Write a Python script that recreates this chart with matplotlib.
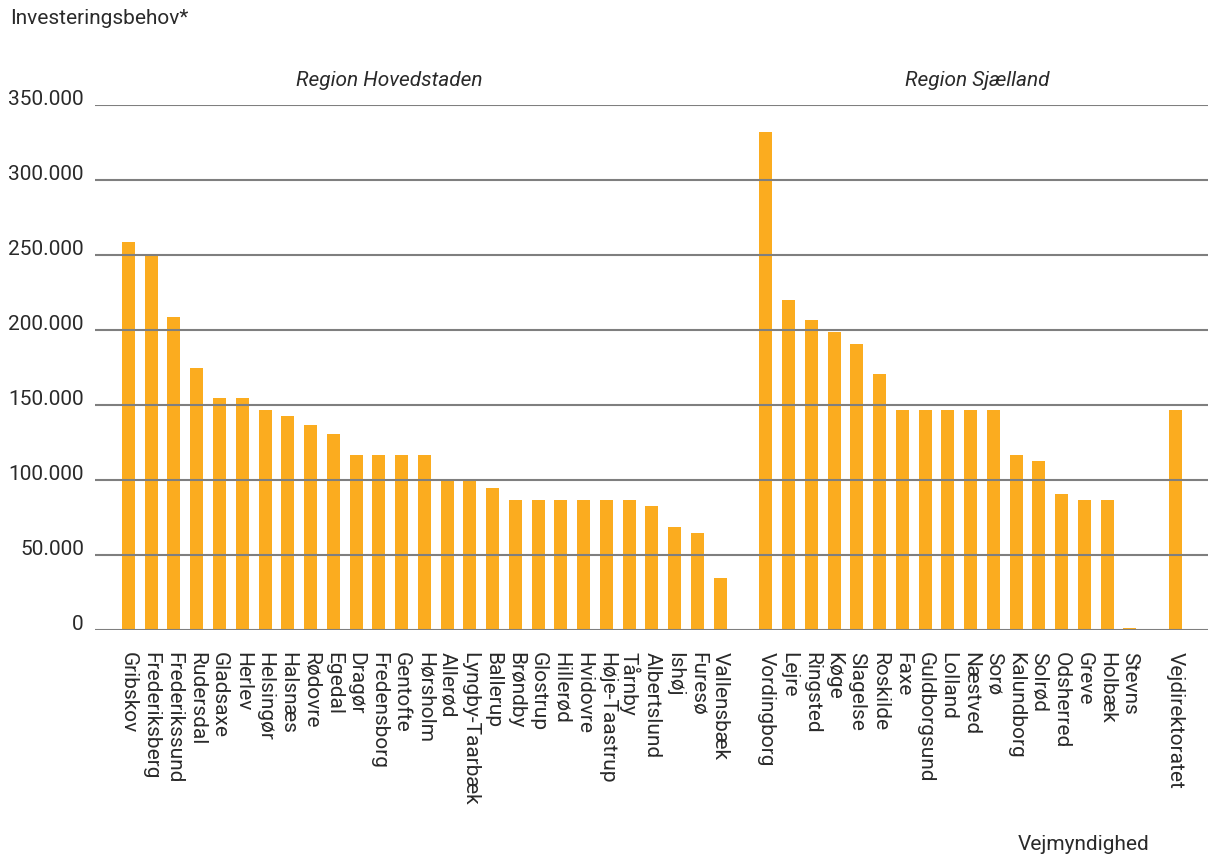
import numpy as np
import matplotlib
matplotlib.use("Agg")
import matplotlib.pyplot as plt

plt.rcParams["font.family"] = ["Roboto", "DejaVu Sans"]

# kommuner, Region Hovedstaden
hovedstaden = ["Gribskov", "Frederiksberg", "Frederikssund", "Rudersdal", "Gladsaxe",
               "Herlev", "Helsingør", "Halsnæs", "Rødovre", "Egedal", "Dragør",
               "Fredensborg", "Gentofte", "Hørsholm", "Allerød", "Lyngby-Taarbæk",
               "Ballerup", "Brøndby", "Glostrup", "Hillerød", "Hvidovre",
               "Høje-Taastrup", "Tårnby", "Albertslund", "Ishøj", "Furesø", "Vallensbæk"]
hovedstaden_vals = [259000, 251000, 209000, 175000, 155000, 155000, 147000, 143000,
                    137000, 131000, 117000, 117000, 117000, 117000, 101000, 100000,
                    95000, 87000, 87000, 87000, 87000, 87000, 87000, 83000, 69000,
                    65000, 35000]

# kommuner, Region Sjælland
sjaelland = ["Vordingborg", "Lejre", "Ringsted", "Køge", "Slagelse", "Roskilde", "Faxe",
             "Guldborgsund", "Lolland", "Næstved", "Sorø", "Kalundborg", "Solrød",
             "Odsherred", "Greve", "Holbæk", "Stevns"]
sjaelland_vals = [332000, 220000, 207000, 199000, 191000, 171000, 147000, 147000,
                  147000, 147000, 147000, 117000, 113000, 91000, 87000, 87000, 1500]

stat = ["Vejdirektoratet"]
stat_vals = [147000]

yticks = [0, 50000, 100000, 150000, 200000, 250000, 300000, 350000]
ytick_labels = ["0", "50.000", "100.000", "150.000", "200.000", "250.000",
                "300.000", "350.000"]

BAR = "#fbac1f"
GRID = "#7f7f7f"
TXT = "#2a2a2a"

# positions: one empty slot between the groups
x_h = np.arange(len(hovedstaden))
x_s = np.arange(len(sjaelland)) + len(hovedstaden) + 1
x_v = np.arange(len(stat)) + x_s[-1] + 2
xs = np.concatenate([x_h, x_s, x_v])
labels = hovedstaden + sjaelland + stat
vals = hovedstaden_vals + sjaelland_vals + stat_vals

fig = plt.figure(figsize=(12.08, 8.56), dpi=100)
ax = fig.add_axes([95 / 1208, 226 / 856, 1113 / 1208, 525 / 856])

ax.bar(xs, vals, width=0.57, color=BAR, zorder=2)
for y in yticks:
    ax.axhline(y, color=GRID, lw=1.5, zorder=3)

ax.set_xlim(-1.47, 47.43)
ax.set_ylim(0, 350000)
for s in ax.spines.values():
    s.set_visible(False)

ax.set_yticks(yticks)
ax.set_yticklabels(ytick_labels, fontsize=15, color=TXT)
for t in ax.get_yticklabels():
    t.set_va("baseline")
ax.tick_params(axis="y", length=0, pad=8)

ax.set_xticks(xs)
ax.set_xticklabels(labels, rotation=-90, fontsize=15, color=TXT, va="top", ha="center")
ax.tick_params(axis="x", length=0, pad=16)

ax.text(11.47, 360000, "Region Hovedstaden", style="italic", fontsize=15, color=TXT,
        ha="center", va="bottom")
ax.text(37.3, 360000, "Region Sjælland", style="italic", fontsize=15, color=TXT,
        ha="center", va="bottom")

fig.text(10 / 1208, 1 - 18 / 856, "Investeringsbehov*", fontsize=15, color=TXT,
         ha="left", va="center")
fig.text(1084 / 1208, 1 - 845 / 856, "Vejmyndighed", fontsize=15, color=TXT,
         ha="center", va="center")

fig.savefig("out.png", dpi=100)
